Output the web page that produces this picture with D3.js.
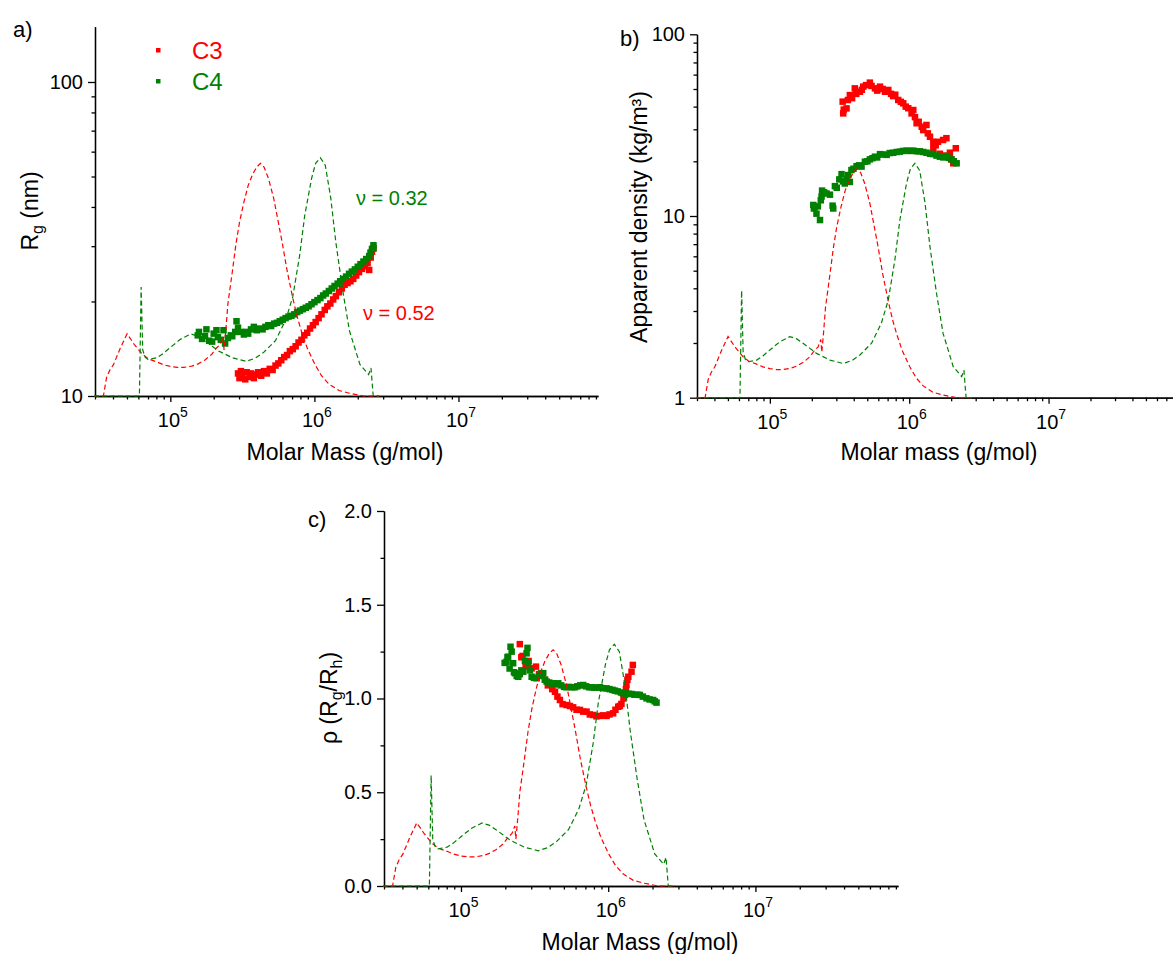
<!DOCTYPE html>
<html>
<head>
<meta charset="utf-8">
<script src="https://cdn.jsdelivr.net/npm/d3@7"></script>
<style>
	body { margin: 0; background: #fff; }
	svg { display: block; font-family: 'Liberation Sans', Arial, Helvetica, sans-serif; }
	.axis path, .axis line { stroke: #000; stroke-width: 1.3; }
	.axis text { fill: #000; }
	.dist { fill: none; stroke-width: 1.2; stroke-dasharray: 5,3; }
</style>
</head>
<body>
<div id="chart"></div>
<script>
// Global vars
var RED = '#ff0000';
var GREEN = '#008000';
var FONT = "'Liberation Sans', Arial, Helvetica, sans-serif";

// Shared molar mass axis
var xDomain = [3e4, 9.3e7];
var xTickValues = [1e5, 1e6, 1e7];
var xTickExponents = ['5', '6', '7'];

// Tick labels of the value axes
var rgTicks = [10, 100];
var densityTicks = [1, 10, 100];
var rhoTicks = [0, 0.5, 1.0, 1.5, 2.0];

// Molar mass distributions (dashed, secondary scale 0-2, same in all panels)
var distM_C3 = [2.95e4, 3.43e4, 3.61e4, 3.80e4, 4.03e4, 4.50e4, 5.01e4, 5.61e4, 6.03e4, 6.43e4,
	7.08e4, 8.04e4, 8.91e4, 1.00e5, 1.12e5, 1.24e5, 1.41e5, 1.56e5, 1.74e5, 1.94e5,
	2.09e5, 2.22e5, 2.32e5, 2.36e5, 2.43e5, 2.51e5, 2.69e5, 2.85e5, 3.02e5, 3.24e5,
	3.47e5, 3.72e5, 3.98e5, 4.22e5, 4.47e5, 4.79e5, 5.22e5, 5.62e5, 5.98e5, 6.46e5,
	7.08e5, 7.59e5, 8.13e5, 8.91e5, 1.01e6, 1.12e6, 1.26e6, 1.48e6, 1.75e6, 2.19e6, 2.82e6];
var distW_C3 = [0, 0, 0.10, 0.14, 0.17, 0.26, 0.337, 0.28, 0.25, 0.225,
	0.20, 0.185, 0.17, 0.16, 0.155, 0.155, 0.162, 0.174, 0.195, 0.226,
	0.26, 0.28, 0.32, 0.25, 0.36, 0.50, 0.67, 0.82, 0.94, 1.05,
	1.14, 1.20, 1.24, 1.26, 1.24, 1.18, 1.07, 0.94, 0.83, 0.68,
	0.53, 0.43, 0.35, 0.26, 0.17, 0.11, 0.065, 0.03, 0.015, 0, 0];

var distM_C4 = [2.95e4, 6.10e4, 6.27e4, 6.43e4, 6.68e4, 6.98e4, 8.04e4, 8.91e4, 1.00e5, 1.18e5,
	1.39e5, 1.55e5, 1.73e5, 1.95e5, 2.16e5, 2.70e5, 3.36e5, 3.89e5, 4.43e5, 5.37e5,
	6.31e5, 7.08e5, 7.89e5, 8.57e5, 9.57e5, 1.02e6, 1.10e6, 1.19e6, 1.30e6, 1.41e6,
	1.57e6, 1.75e6, 2.07e6, 2.38e6, 2.47e6, 2.56e6, 2.82e6];
var distW_C4 = [0, 0, 0.59, 0.25, 0.21, 0.198, 0.207, 0.23, 0.263, 0.308,
	0.336, 0.325, 0.30, 0.27, 0.244, 0.207, 0.188, 0.205, 0.235, 0.30,
	0.41, 0.538, 0.758, 0.978, 1.18, 1.26, 1.29, 1.25, 1.07, 0.83,
	0.575, 0.354, 0.171, 0.116, 0.152, 0, 0];

// a) Radius of gyration (nm)
var rgM_C3 = [2.95e5, 3.02e5, 3.09e5, 3.16e5, 3.31e5, 3.39e5, 3.55e5, 3.63e5, 3.80e5, 3.89e5,
	4.07e5, 4.27e5, 4.47e5, 4.68e5, 4.90e5, 5.13e5, 5.37e5, 5.62e5, 5.89e5, 6.17e5,
	6.46e5, 6.76e5, 7.08e5, 7.41e5, 7.76e5, 8.13e5, 8.51e5, 8.91e5, 9.33e5, 9.77e5,
	1.02e6, 1.07e6, 1.12e6, 1.18e6, 1.23e6, 1.29e6, 1.35e6, 1.41e6, 1.48e6, 1.55e6,
	1.62e6, 1.70e6, 1.78e6, 1.86e6, 1.95e6, 2.04e6, 2.14e6, 2.24e6, 2.34e6, 2.40e6,
	2.46e6, 2.51e6, 2.57e6];
var rgVal_C3 = [11.8, 11.4, 12.0, 11.6, 11.3, 11.9, 11.5, 11.8, 11.4, 11.7,
	11.9, 11.6, 12.0, 11.8, 12.2, 12.1, 12.5, 12.7, 13.0, 13.3,
	13.5, 13.9, 14.1, 14.4, 14.8, 15.1, 15.6, 15.9, 16.4, 16.8,
	17.2, 17.7, 18.2, 18.8, 19.3, 19.7, 20.3, 20.8, 21.4, 22.0,
	22.6, 22.9, 23.2, 23.6, 24.2, 24.8, 25.4, 25.9, 26.5, 25.2,
	27.6, 28.8, 29.6];

var rgM_C4 = [1.55e5, 1.58e5, 1.66e5, 1.74e5, 1.78e5, 1.86e5, 1.95e5, 2.00e5, 2.09e5, 2.14e5,
	2.24e5, 2.34e5, 2.40e5, 2.51e5, 2.63e5, 2.69e5, 2.82e5, 2.88e5, 2.95e5, 3.09e5,
	3.24e5, 3.39e5, 3.47e5, 3.63e5, 3.80e5, 3.98e5, 4.17e5, 4.37e5, 4.57e5, 4.79e5,
	5.01e5, 5.25e5, 5.50e5, 5.75e5, 6.03e5, 6.31e5, 6.61e5, 6.92e5, 7.24e5, 7.59e5,
	7.94e5, 8.32e5, 8.71e5, 9.12e5, 9.55e5, 1.00e6, 1.05e6, 1.10e6, 1.15e6, 1.20e6,
	1.26e6, 1.32e6, 1.38e6, 1.45e6, 1.51e6, 1.58e6, 1.66e6, 1.74e6, 1.82e6, 1.91e6,
	2.00e6, 2.09e6, 2.19e6, 2.29e6, 2.40e6, 2.45e6, 2.51e6, 2.57e6, 2.57e6];
var rgVal_C4 = [15.6, 16.0, 15.2, 15.5, 16.3, 15.0, 14.9, 15.8, 16.2, 15.4,
	15.1, 16.2, 14.7, 15.3, 15.6, 15.5, 16.0, 17.3, 16.5, 16.0,
	15.7, 16.0, 15.8, 16.3, 16.6, 16.2, 16.4, 16.3, 16.6, 16.8,
	16.7, 17.0, 17.1, 17.3, 17.5, 17.7, 17.9, 18.0, 18.2, 18.5,
	18.7, 18.9, 19.1, 19.3, 19.6, 19.9, 20.2, 20.5, 20.9, 21.2,
	21.6, 22.0, 22.4, 22.8, 23.2, 23.6, 24.0, 24.5, 24.9, 25.3,
	25.8, 26.3, 26.8, 27.3, 27.9, 28.6, 29.4, 30.2, 29.5];

// b) Apparent density (kg/m3)
var denM_C3 = [3.33e5, 3.36e5, 3.39e5, 3.55e5, 3.63e5, 3.75e5, 3.89e5, 4.07e5, 4.17e5, 4.43e5,
	4.57e5, 4.68e5, 4.90e5, 5.22e5, 5.37e5, 5.68e5, 5.89e5, 6.17e5, 6.46e5, 6.70e5,
	7.08e5, 7.41e5, 7.67e5, 7.94e5, 8.34e5, 8.71e5, 9.06e5, 9.44e5, 9.84e5, 1.04e6,
	1.07e6, 1.10e6, 1.13e6, 1.17e6, 1.23e6, 1.26e6, 1.33e6, 1.36e6, 1.41e6, 1.49e6,
	1.49e6, 1.55e6, 1.61e6, 1.66e6, 1.75e6, 1.78e6, 1.85e6, 1.96e6, 2.00e6, 2.07e6, 2.16e6];
var denVal_C3 = [42.6, 36.7, 38.5, 39.1, 43.5, 46.3, 44.5, 50.4, 47.0, 48.3,
	49.5, 51.5, 52.5, 54.2, 52.0, 50.4, 49.0, 51.5, 50.0, 48.3,
	49.4, 47.0, 45.7, 46.5, 43.5, 42.5, 41.7, 40.0, 39.2, 36.7,
	38.3, 35.0, 32.4, 33.0, 31.0, 29.7, 31.7, 28.5, 27.3, 25.6,
	23.6, 24.5, 25.6, 22.0, 26.2, 21.5, 26.8, 22.3, 20.5, 19.5, 23.6];

var denM_C4 = [2.05e5, 2.07e5, 2.10e5, 2.16e5, 2.21e5, 2.29e5, 2.32e5, 2.35e5, 2.37e5, 2.45e5,
	2.55e5, 2.70e5, 2.82e5, 2.85e5, 2.93e5, 3.02e5, 3.15e5, 3.27e5, 3.35e5, 3.45e5,
	3.55e5, 3.65e5, 3.75e5, 3.85e5, 3.98e5, 4.19e5, 4.37e5, 4.55e5, 4.81e5, 5.01e5,
	5.22e5, 5.45e5, 5.68e5, 5.89e5, 6.17e5, 6.46e5, 6.89e5, 7.24e5, 7.67e5, 8.13e5,
	8.57e5, 9.02e5, 9.57e5, 1.01e6, 1.07e6, 1.13e6, 1.19e6, 1.26e6, 1.33e6, 1.41e6,
	1.49e6, 1.57e6, 1.66e6, 1.76e6, 1.85e6, 1.93e6, 2.01e6, 2.09e6, 2.19e6];
var denVal_C4 = [11.5, 11.0, 11.2, 10.3, 11.3, 9.5, 12.2, 12.8, 13.8, 13.5,
	13.3, 13.1, 11.4, 11.0, 14.6, 14.3, 15.9, 17.0, 15.5, 15.1,
	16.0, 16.8, 15.4, 17.9, 18.2, 18.8, 19.0, 18.7, 19.9, 20.0,
	20.5, 20.8, 21.2, 21.0, 21.9, 21.8, 21.7, 22.2, 22.3, 22.5,
	22.6, 22.8, 22.9, 22.8, 22.9, 22.7, 22.7, 22.5, 22.3, 22.0,
	21.9, 21.5, 21.2, 21.0, 21.4, 20.9, 20.5, 20.0, 19.5];

// c) Shape factor rho = Rg/Rh
var rhoM_C3 = [2.51e5, 2.57e5, 2.62e5, 2.75e5, 2.88e5, 3.02e5, 3.23e5, 3.39e5, 3.53e5, 3.72e5,
	3.89e5, 4.02e5, 4.17e5, 4.35e5, 4.52e5, 4.70e5, 4.90e5, 5.21e5, 5.50e5, 5.78e5,
	6.10e5, 6.43e5, 6.76e5, 7.13e5, 7.50e5, 7.91e5, 8.32e5, 8.79e5, 9.23e5, 9.75e5,
	1.02e6, 1.08e6, 1.12e6, 1.17e6, 1.20e6, 1.23e6, 1.27e6, 1.30e6, 1.32e6, 1.33e6,
	1.35e6, 1.37e6, 1.44e6, 1.47e6];
var rhoVal_C3 = [1.29, 1.22, 1.227, 1.17, 1.20, 1.161, 1.17, 1.13, 1.125, 1.10,
	1.07, 1.081, 1.05, 1.036, 1.01, 0.992, 0.97, 0.965, 0.96, 0.953,
	0.94, 0.939, 0.93, 0.93, 0.915, 0.912, 0.905, 0.907, 0.91, 0.907,
	0.915, 0.921, 0.94, 0.956, 0.96, 0.971, 1.0, 1.019, 1.05, 1.072,
	1.10, 1.116, 1.143, 1.179];

var rhoM_C4 = [1.98e5, 2.04e5, 2.07e5, 2.09e5, 2.14e5, 2.17e5, 2.21e5, 2.26e5, 2.29e5, 2.33e5,
	2.39e5, 2.45e5, 2.51e5, 2.57e5, 2.65e5, 2.72e5, 2.79e5, 2.83e5, 2.86e5, 2.94e5,
	3.02e5, 3.13e5, 3.27e5, 3.39e5, 3.51e5, 3.62e5, 3.72e5, 3.82e5, 3.98e5, 4.12e5,
	4.24e5, 4.42e5, 4.58e5, 4.79e5, 5.01e5, 5.21e5, 5.43e5, 5.69e5, 5.94e5, 6.17e5,
	6.46e5, 6.76e5, 7.08e5, 7.41e5, 7.71e5, 8.04e5, 8.41e5, 8.79e5, 9.23e5, 9.75e5,
	1.02e6, 1.07e6, 1.11e6, 1.16e6, 1.22e6, 1.26e6, 1.32e6, 1.38e6, 1.44e6, 1.51e6,
	1.58e6, 1.64e6, 1.72e6, 1.82e6, 1.91e6, 2.02e6, 2.07e6, 2.13e6];
var rhoVal_C4 = [1.19, 1.196, 1.22, 1.223, 1.16, 1.276, 1.25, 1.188, 1.14, 1.135,
	1.12, 1.116, 1.13, 1.15, 1.143, 1.20, 1.241, 1.27, 1.188, 1.15,
	1.116, 1.11, 1.108, 1.12, 1.135, 1.135, 1.10, 1.09, 1.085, 1.08,
	1.081, 1.075, 1.081, 1.07, 1.062, 1.06, 1.062, 1.06, 1.06, 1.065,
	1.07, 1.072, 1.065, 1.06, 1.06, 1.058, 1.058, 1.06, 1.055, 1.054,
	1.05, 1.046, 1.042, 1.038, 1.032, 1.028, 1.026, 1.025, 1.024, 1.02,
	1.02, 1.019, 1.01, 1.001, 0.995, 0.992, 0.985, 0.978];

/*
 * Helpers
 */
var makeTranslate = function(x, y) {
	return 'translate(' + x + ',' + y + ')';
};

var zip = function(ms, vs) {
	return ms.map(function(m, i) {
		return { m: m, v: vs[i] };
	});
};

var logMinors = function(domain) {
	var out = [];
	var e0 = Math.floor(Math.log10(domain[0]));
	var e1 = Math.floor(Math.log10(domain[1]));
	for (var e = e0; e <= e1; e++) {
		for (var k = 2; k <= 9; k++) {
			var v = k * Math.pow(10, e);
			if (v >= domain[0] && v <= domain[1]) {
				out.push(v);
			}
		}
	}
	return out;
};

/*
 * Render one panel.
 */
var renderPanel = function(svg, config) {
	var xScale = d3.scaleLog().domain(xDomain).range(config.xRange);
	var yScale = config.yScale;
	var yBottom = yScale.range()[0];
	var yTop = yScale.range()[1];
	var xLeft = config.xRange[0];

	// hidden secondary axis for the distributions
	var distScale = d3.scaleLinear().domain([0, 2]).range([yBottom, yTop]);

	var g = svg.append('g');

	/*
	 * X axis: minor ticks, then major ticks with 10^n labels
	 */
	g.append('g')
		.attr('class', 'axis')
		.attr('transform', makeTranslate(0, yBottom))
		.call(d3.axisBottom(xScale).tickValues(logMinors(xDomain)).tickSize(3.5).tickSizeOuter(0).tickFormat(''));

	var xAxisG = g.append('g')
		.attr('class', 'axis')
		.attr('transform', makeTranslate(0, yBottom))
		.call(d3.axisBottom(xScale).tickValues(xTickValues).tickSize(6).tickSizeOuter(0).tickFormat(''));

	xAxisG.selectAll('.tick text').remove();
	xAxisG.selectAll('.tick').each(function(d, i) {
		var t = d3.select(this).append('text')
			.attr('x', 2)
			.attr('y', 31)
			.attr('text-anchor', 'middle')
			.attr('font-family', FONT)
			.attr('font-size', 20)
			.attr('fill', '#000');
		t.append('tspan').text('10');
		t.append('tspan').attr('font-size', 14).attr('dy', -10).text(xTickExponents[i]);
	});

	/*
	 * Y axis
	 */
	if (config.yMinors.length) {
		g.append('g')
			.attr('class', 'axis')
			.attr('transform', makeTranslate(xLeft, 0))
			.call(d3.axisLeft(yScale).tickValues(config.yMinors).tickSize(3.5).tickSizeOuter(0).tickFormat(''));
	}

	g.append('g')
		.attr('class', 'axis')
		.attr('transform', makeTranslate(xLeft, 0))
		.call(d3.axisLeft(yScale).tickValues(config.yTicks).tickSize(7).tickPadding(5).tickSizeOuter(0).tickFormat(config.yFormat))
		.attr('font-family', FONT)
		.attr('font-size', 20);

	/*
	 * Scatter points: C3 first, C4 on top
	 */
	var size = 6.5;
	[[config.c3, RED], [config.c4, GREEN]].forEach(function(s) {
		g.append('g')
			.selectAll('rect')
			.data(s[0])
			.enter()
			.append('rect')
			.attr('x', function(d) { return xScale(d.m) - size / 2; })
			.attr('y', function(d) { return yScale(d.v) - size / 2; })
			.attr('width', size)
			.attr('height', size)
			.attr('fill', s[1]);
	});

	/*
	 * Dashed molar mass distributions
	 */
	var line = d3.line()
		.x(function(d) { return xScale(d.m); })
		.y(function(d) { return distScale(d.v); });

	g.append('path')
		.attr('class', 'dist')
		.attr('stroke', RED)
		.attr('d', line(zip(distM_C3, distW_C3)));

	g.append('path')
		.attr('class', 'dist')
		.attr('stroke', GREEN)
		.attr('d', line(zip(distM_C4, distW_C4)));

	/*
	 * Titles
	 */
	g.append('text')
		.attr('x', config.xTitle[0])
		.attr('y', config.xTitle[1])
		.attr('text-anchor', 'middle')
		.attr('font-size', 23)
		.text(config.xLabel);

	var yt = g.append('text')
		.attr('transform', makeTranslate(config.yTitle[0], config.yTitle[1]) + ' rotate(-90)')
		.attr('text-anchor', 'middle')
		.attr('font-size', 23);
	config.yLabel.forEach(function(part) {
		var ts = yt.append('tspan').text(part[0]);
		if (part[1] === 'sub') {
			ts.attr('font-size', 16).attr('dy', 5);
		} else if (part[1] === 'back') {
			ts.attr('dy', -5);
		}
	});

	g.append('text')
		.attr('x', config.panelLabel[0])
		.attr('y', config.panelLabel[1])
		.attr('font-size', 22)
		.text(config.panelLabel[2]);

	return { x: xScale, y: yScale };
};

/*
 * Render the whole figure.
 */
var render = function() {
	var svg = d3.select('#chart')
		.append('svg')
		.attr('width', 1173)
		.attr('height', 954);

	svg.append('rect').attr('width', 1173).attr('height', 954).attr('fill', '#fff');

	// a) Rg vs molar mass
	renderPanel(svg, {
		xRange: [95, 598],
		yScale: d3.scaleLog().domain([10, 150]).range([396, 26.7]),
		yTicks: rgTicks,
		yMinors: logMinors([10, 150]),
		yFormat: d3.format('d'),
		c3: zip(rgM_C3, rgVal_C3),
		c4: zip(rgM_C4, rgVal_C4),
		xLabel: 'Molar Mass (g/mol)',
		xTitle: [345, 460],
		yLabel: [['R', ''], ['g', 'sub'], [' (nm)', 'back']],
		yTitle: [38, 211],
		panelLabel: [13, 37, 'a)']
	});

	// legend and exponents of panel a
	var legend = [['C3', RED, 50], ['C4', GREEN, 81]];
	legend.forEach(function(l) {
		svg.append('rect')
			.attr('x', 156)
			.attr('y', l[2] - 2)
			.attr('width', 4.5)
			.attr('height', 4.5)
			.attr('fill', l[1]);
		svg.append('text')
			.attr('x', 192)
			.attr('y', l[2] + 8.5)
			.attr('font-size', 24)
			.attr('fill', l[1])
			.text(l[0]);
	});

	var exponents = [['\u03bd = 0.32', GREEN, 356, 205], ['\u03bd = 0.52', RED, 363, 320]];
	exponents.forEach(function(e) {
		svg.append('text')
			.attr('x', e[2])
			.attr('y', e[3])
			.attr('font-size', 20)
			.attr('fill', e[1])
			.text(e[0]);
	});

	// b) apparent density vs molar mass
	renderPanel(svg, {
		xRange: [697, 1183.5],
		yScale: d3.scaleLog().domain([1, 100]).range([397.7, 34.3]),
		yTicks: densityTicks,
		yMinors: logMinors([1, 100]),
		yFormat: d3.format('d'),
		c3: zip(denM_C3, denVal_C3),
		c4: zip(denM_C4, denVal_C4),
		xLabel: 'Molar mass (g/mol)',
		xTitle: [939, 460],
		yLabel: [['Apparent density (kg/m\u00b3)', '']],
		yTitle: [647, 217],
		panelLabel: [620, 46, 'b)']
	});

	// c) rho vs molar mass
	renderPanel(svg, {
		xRange: [384, 898],
		yScale: d3.scaleLinear().domain([0, 2]).range([886, 511]),
		yTicks: rhoTicks,
		yMinors: [0.25, 0.75, 1.25, 1.75],
		yFormat: d3.format('.1f'),
		c3: zip(rhoM_C3, rhoVal_C3),
		c4: zip(rhoM_C4, rhoVal_C4),
		xLabel: 'Molar Mass (g/mol)',
		xTitle: [640, 950],
		yLabel: [['\u03c1 (R', ''], ['g', 'sub'], ['/R', 'back'], ['h', 'sub'], [')', 'back']],
		yTitle: [337, 698],
		panelLabel: [308, 527, 'c)']
	});
};

window.onload = render;
</script>
</body>
</html>
